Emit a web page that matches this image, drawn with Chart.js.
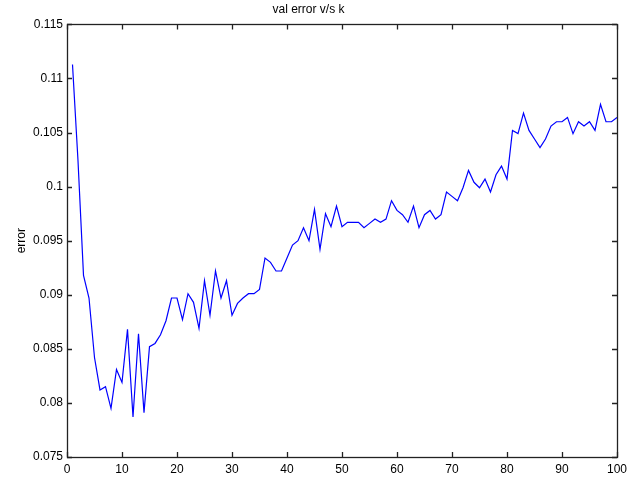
<!DOCTYPE html>
<html>
<head>
<meta charset="utf-8">
<script src="https://cdn.jsdelivr.net/npm/chart.js@4/dist/chart.umd.min.js"></script>
<style>
  html, body { margin: 0; padding: 0; background: #fff; }
  canvas { display: block; }
</style>
</head>
<body>
<canvas id="c" width="628" height="477"></canvas>
<script>
// Validation error for each k
const kValues = Array.from({ length: 100 }, (_, i) => i + 1);
const valError = [
  0.1113, 0.1024, 0.0918, 0.0897, 0.0842, 0.0812, 0.0815, 0.0795, 0.0831, 0.0819,
  0.0868, 0.0787, 0.0864, 0.0791, 0.0852, 0.0855, 0.0863, 0.0876, 0.0897, 0.0897,
  0.0877, 0.0901, 0.0893, 0.0869, 0.0913, 0.0881, 0.0922, 0.0897, 0.0913, 0.0881,
  0.0892, 0.0897, 0.0901, 0.0901, 0.0905, 0.0934, 0.0930, 0.0922, 0.0922, 0.0934,
  0.0946, 0.0950, 0.0962, 0.0950, 0.0979, 0.0942, 0.0975, 0.0963, 0.0982, 0.0963,
  0.0967, 0.0967, 0.0967, 0.0962, 0.0966, 0.0970, 0.0967, 0.0970, 0.0987, 0.0978,
  0.0974, 0.0967, 0.0982, 0.0962, 0.0974, 0.0978, 0.0970, 0.0974, 0.0995, 0.0991,
  0.0987, 0.0999, 0.1015, 0.1004, 0.0999, 0.1007, 0.0995, 0.1011, 0.1019, 0.1007,
  0.1052, 0.1049, 0.1068, 0.1052, 0.1044, 0.1036, 0.1044, 0.1056, 0.1060, 0.1060,
  0.1064, 0.1049, 0.1060, 0.1056, 0.1060, 0.1052, 0.1076, 0.1060, 0.1060, 0.1064
];
const xTickLabels = ['0', '10', '20', '30', '40', '50', '60', '70', '80', '90', '100'];
const yTickLabels = ['0.075', '0.08', '0.085', '0.09', '0.095', '0.1', '0.105', '0.11', '0.115'];

const FONT = 'Liberation Sans, Arial, Helvetica, sans-serif';

// Box around the plot with inward tick marks on all four sides
const boxTicks = {
  id: 'boxTicks',
  afterDraw(chart) {
    const { ctx, chartArea: a, scales } = chart;
    const len = 5;
    ctx.save();
    ctx.strokeStyle = '#222';
    ctx.lineWidth = 1.3;
    ctx.beginPath();
    scales.x.ticks.forEach(t => {
      const px = Math.round(scales.x.getPixelForValue(t.value)) + 0.5;
      ctx.moveTo(px, a.bottom); ctx.lineTo(px, a.bottom - len);
      ctx.moveTo(px, a.top); ctx.lineTo(px, a.top + len);
    });
    scales.y.ticks.forEach(t => {
      const py = Math.round(scales.y.getPixelForValue(t.value)) + 0.5;
      ctx.moveTo(a.left, py); ctx.lineTo(a.left + len, py);
      ctx.moveTo(a.right, py); ctx.lineTo(a.right - len, py);
    });
    ctx.stroke();
    ctx.strokeRect(Math.round(a.left) + 0.5, Math.round(a.top) + 0.5,
                   Math.round(a.right - a.left), Math.round(a.bottom - a.top));
    ctx.restore();
  }
};

new Chart(document.getElementById('c'), {
  type: 'line',
  data: {
    datasets: [{
      data: kValues.map((k, i) => ({ x: k, y: valError[i] })),
      borderColor: '#0000ff',
      borderWidth: 1.2,
      pointRadius: 0,
      tension: 0,
      fill: false
    }]
  },
  options: {
    responsive: false,
    animation: false,
    layout: { padding: { left: 0, right: 11, top: 0, bottom: 0 } },
    plugins: {
      legend: { display: false },
      tooltip: { enabled: false },
      title: {
        display: true,
        text: 'val error v/s k',
        color: '#000',
        font: { family: FONT, size: 12, weight: 'normal' },
        padding: { top: 2, bottom: 8 }
      }
    },
    scales: {
      x: {
        type: 'linear',
        min: 0,
        max: 100,
        grid: { display: false, drawTicks: false },
        border: { display: false },
        afterFit(s) { s.height = 20; s.paddingLeft = 0; s.paddingRight = 0; },
        ticks: {
          stepSize: 10,
          padding: 5,
          maxRotation: 0,
          color: '#000',
          font: { family: FONT, size: 12 },
          callback: (v) => xTickLabels[Math.round(v / 10)]
        }
      },
      y: {
        type: 'linear',
        min: 0.075,
        max: 0.115,
        grid: { display: false, drawTicks: false },
        border: { display: false },
        afterFit(s) { s.width = 67; },
        title: {
          display: true,
          text: 'error',
          color: '#000',
          font: { family: FONT, size: 12 },
          padding: { top: 14, bottom: 0 }
        },
        ticks: {
          stepSize: 0.005,
          padding: 4,
          color: '#000',
          font: { family: FONT, size: 12 },
          callback: (v) => yTickLabels[Math.round((v - 0.075) / 0.005)]
        }
      }
    }
  },
  plugins: [boxTicks]
});
</script>
</body>
</html>
